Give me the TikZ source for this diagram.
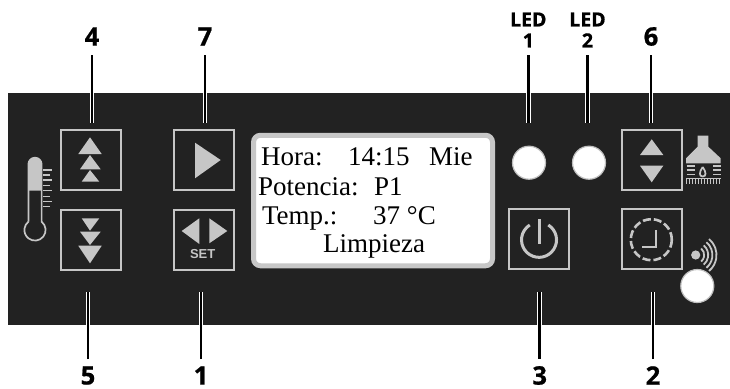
\documentclass[tikz,border=0pt]{standalone}
\usepackage{fontspec}
\setmainfont{Liberation Serif}
\newfontfamily\rotulofont[BoldFeatures={FakeBold=0.8}]{Open Sans}
\newfontfamily\teclafont{Liberation Sans}
\definecolor{panelgris}{HTML}{222222}
\definecolor{iconogris}{HTML}{C6C6C6}
\tikzset{
	tecla/.style={draw=iconogris, line width=2pt, minimum width=60pt, minimum height=60pt, inner sep=0pt},
	led/.style={circle, draw=black!25, fill=white, line width=1.2pt, minimum size=33pt, inner sep=0pt},
	rotulo/.style={font=\rotulofont\bfseries\fontsize{25.5}{26}\selectfont, minimum height=37pt, inner sep=0pt},
	rotulobajo/.style={font=\rotulofont\bfseries\fontsize{25.5}{26}\selectfont, inner sep=0pt},
	rotuloled/.style={font=\rotulofont\bfseries\fontsize{19.5}{21}\selectfont, align=center, minimum height=50pt, inner sep=0pt},
	lcdtxt/.style={font=\fontsize{27}{27}\selectfont, anchor=base west, inner sep=0pt, text=black},
	guia/.style={black, line width=2.6pt},
	halo/.style={white, line width=4.6pt}
}
\begin{document}
\begin{tikzpicture}[x=1pt, y=-1pt]
	\useasboundingbox (0,0) rectangle (730,388);
	
	% Panel
	\node[fill=panelgris, minimum width=722pt, minimum height=232pt, inner sep=0pt] (panel) at (369,209) {};
	\coordinate (fintop) at (0,123);
	\coordinate (finbot) at (0,292);
	
	% Teclas
	\node[tecla] (btncuatro) at (91.2,160.3) {};
	\node[tecla] (btncinco) at (91.2,239.6) {};
	\node[tecla] (btnsiete) at (204,160.3) {};
	\node[tecla] (btnuno) at (204,239.6) {};
	\node[tecla] (btntres) at (539,239.2) {};
	\node[tecla] (btndos) at (652,239.2) {};
	\node[tecla] (btnseis) at (652,160.3) {};
	
	% Pantalla
	\node[draw=black!22, fill=white, line width=5pt, rounded corners=7pt, minimum width=239pt, minimum height=130.5pt, inner sep=0pt] (lcd) at (373,200.5) {};
	\node[lcdtxt] (hora) at (261,165) {Hora:};
	\node[lcdtxt] (reloj) at (348,165) {14:15};
	\node[lcdtxt] (dia) at (429,165) {Mie};
	\node[lcdtxt] (potencia) at (258,195) {Potencia:};
	\node[lcdtxt] (nivel) at (374,195) {P1};
	\node[lcdtxt] (temp) at (262,224) {T\kern-2.2pt emp.:};
	\node[lcdtxt] (grados) at (373,224) {37 °C};
	\node[lcdtxt] (limpieza) at (323,252) {Limpieza};
	
	% Leds
	\node[led] (ledA) at (529,162.7) {};
	\node[led] (ledB) at (589,162.7) {};
	\node[led] (ledC) at (697.3,286) {};
	
	% Rotulos
	\node[rotulo] (lblcuatro) at (92,36.5) {4};
	\node[rotulo] (lblsiete) at (205,36.5) {7};
	\node[rotulo] (lblseis) at (651,36.5) {6};
	\node[rotuloled] (lblledA) at (528.3,30) {LED\\1};
	\node[rotuloled] (lblledB) at (587.5,30) {LED\\2};
	\node[rotulobajo] (lblcinco) at (88,375.5) {5};
	\node[rotulobajo] (lbluno) at (201,375.5) {1};
	\node[rotulobajo] (lbltres) at (539.7,375.5) {3};
	\node[rotulobajo] (lbldos) at (653,375.5) {2};
	
	% Guias
	\foreach \nm in {cuatro,siete,ledA,ledB,seis} {
		\draw[halo] (lbl\nm.south |- panel.north) -- (lbl\nm.south |- fintop);
		\draw[guia] (lbl\nm.south) -- (lbl\nm.south |- fintop);
	}
	\foreach \nm in {cinco,uno,tres,dos} {
		\draw[halo] (lbl\nm.north |- panel.south) -- (lbl\nm.north |- finbot);
		\draw[guia, shorten <=7pt] (lbl\nm.north) -- (lbl\nm.north |- finbot);
	}
	
	% Flechas de las teclas
	\fill[iconogris] (90,137.3) -- (101.7,154) -- (78.3,154) -- cycle;
	\fill[iconogris] (90,155) -- (100.7,169.3) -- (80,169.3) -- cycle;
	\fill[iconogris] (90,170) -- (99.3,181.7) -- (81.7,181.7) -- cycle;
	\fill[iconogris] (81.7,218.3) -- (99.3,218.3) -- (90,230.7) -- cycle;
	\fill[iconogris] (80,231.7) -- (100.7,231.7) -- (90,245) -- cycle;
	\fill[iconogris] (78.3,245.7) -- (101.7,245.7) -- (90,263.3) -- cycle;
	\fill[iconogris] (195,142.7) -- (220.7,160) -- (195,178.3) -- cycle;
	\fill[iconogris] (199.3,218.3) -- (199.3,244) -- (181.7,231) -- cycle;
	\fill[iconogris] (209.3,218.3) -- (209.3,243.3) -- (227.3,231) -- cycle;
	\node[font=\teclafont\bfseries\fontsize{13}{13}\selectfont, text=iconogris, inner sep=0pt] (set) at (202.7,254.3) {SET};
	\fill[iconogris] (651.7,139.3) -- (663.3,155) -- (640,155) -- cycle;
	\fill[iconogris] (640,165.7) -- (663.3,165.7) -- (651.7,182.3) -- cycle;
	
	% Termometro
	\draw[iconogris, line width=1.7pt] (28.4,221.7) -- (28.4,164.3) arc[start angle=180, end angle=360, radius=6.6] -- (41.6,221.7) arc[start angle=-51.5, end angle=231.5, radius=10.6];
	\fill[iconogris] (28.4,190.7) -- (28.4,164.3) arc[start angle=180, end angle=360, radius=6.6] -- (41.6,190.7) -- cycle;
	\foreach \yy/\xx in {170/51.7,175/49.5,180/51.7,185.7/49.5,190.7/51.7,196.3/49.5,201.7/51.7,206.7/49.5} {
		\draw[iconogris, line width=1.3pt] (43,\yy) -- (\xx,\yy);
	}
	
	% Encendido
	\draw[iconogris, line width=3pt] (548.3,225) arc[start angle=-58, end angle=238, radius=17.5];
	\draw[iconogris, line width=3pt] (539,219.3) -- (539,244);
	
	% Reloj
	\draw[iconogris, line width=2.6pt, dash pattern=on 8pt off 3pt] (651.3,239.7) circle[radius=20.5];
	\draw[iconogris, line width=2.2pt] (655.7,230) -- (655.7,247.3) -- (642.3,247.3);
	
	% Chimenea
	\fill[iconogris] (697.7,135.7) -- (708.3,135.7) -- (708.3,146.7) -- (720.7,158.3) -- (720.7,163.3) -- (686,163.3) -- (686,158.3) -- (697.7,146.7) -- cycle;
	\foreach \yy in {166,170,174.3} {
		\draw[iconogris, line width=1.4pt] (686.7,\yy) -- (695,\yy);
		\draw[iconogris, line width=1.4pt] (713.3,\yy) -- (720.7,\yy);
	}
	\draw[iconogris, line width=1.7pt] (702.7,167) .. controls (699,172) and (699,176.5) .. (702.7,176.5) .. controls (706.4,176.5) and (706.4,172) .. (702.7,167);
	\foreach \xx in {686.5,689.5,...,721} {
		\draw[iconogris, line width=1.4pt] (\xx,178.5) -- (\xx,184);
	}
	\draw[iconogris, line width=1pt] (686,178.8) -- (721,178.8);
	
	% Sensor
	\fill[iconogris] (695.7,255) circle[radius=4.6];
	\foreach \rr in {8.5,12.5,16.7,20.8} {
		\draw[iconogris, line width=1.8pt] (695.7,255) ++(-50:\rr) arc[start angle=-50, end angle=50, radius=\rr];
	}
\end{tikzpicture}
\end{document}
